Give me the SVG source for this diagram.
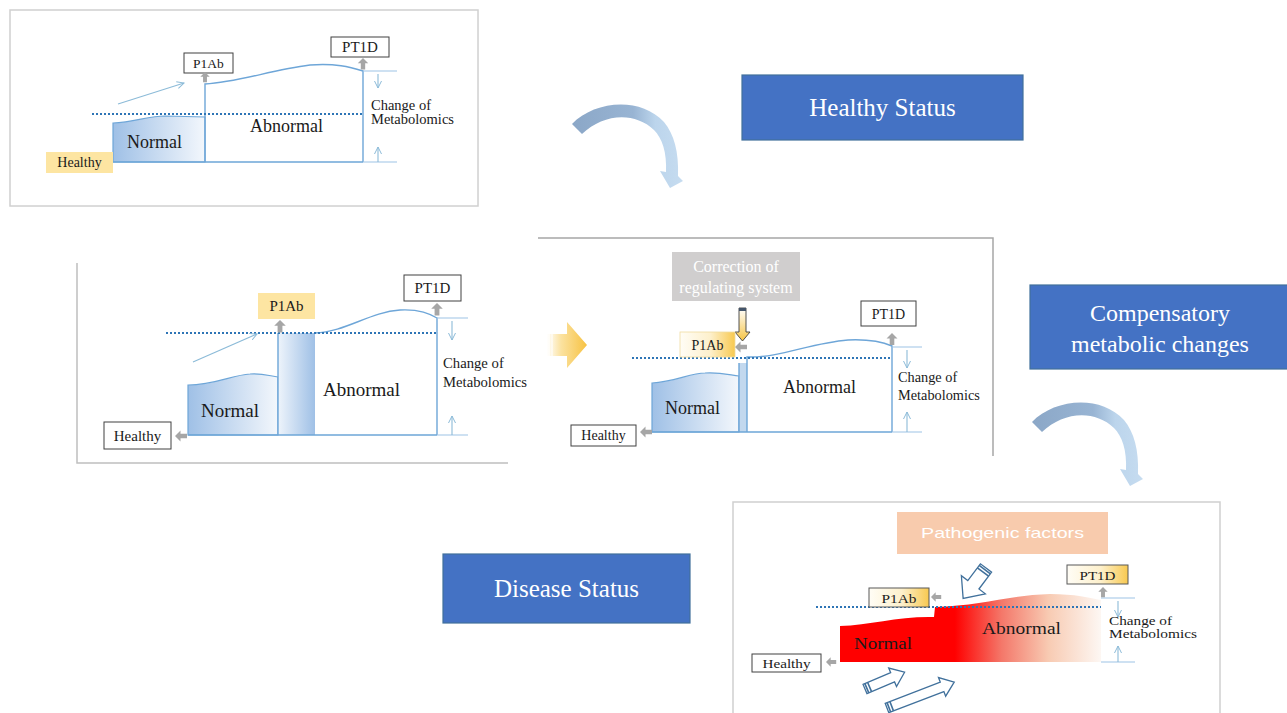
<svg xmlns="http://www.w3.org/2000/svg" xmlns:xlink="http://www.w3.org/1999/xlink" width="1287" height="713" viewBox="0 0 1287 713">
<defs>
<style>
.frame{fill:none;stroke:#d0d0d0;stroke-width:1.5}
.ln{fill:none;stroke:#6ea6d8;stroke-width:1.4}
.tick{fill:none;stroke:#9dc3e6;stroke-width:1.1}
.dot{fill:none;stroke:#2e75b6;stroke-width:2.2;stroke-dasharray:2 2}
.thin{fill:none;stroke:#8cbbd8;stroke-width:1.1}
.bx{fill:#ffffff;stroke:#404040;stroke-width:1}
.t{font-family:"Liberation Serif","Times New Roman",serif;fill:#1a1a1a}
.tw{font-family:"Liberation Serif","Times New Roman",serif;fill:#ffffff}
.ga{fill:#a6a6a6}
.blue{fill:#4472c4;stroke:#41719c;stroke-width:1.2}
.hol{fill:#ffffff;stroke:#41719c;stroke-width:1.3;stroke-linejoin:miter}
.str{stroke:#41719c;stroke-width:1.6}
</style>
<marker id="chev" viewBox="0 0 8 8" refX="7" refY="4" markerWidth="8" markerHeight="8" markerUnits="userSpaceOnUse" orient="auto">
<path d="M0,0.5 L7,4 L0,7.5" fill="none" stroke="#8cbbd8" stroke-width="1"/>
</marker>
<path id="ga" d="M0,0 L5.5,5.5 L2.3,5.5 L2.3,12 L-2.3,12 L-2.3,5.5 L-5.5,5.5 Z"/>
<linearGradient id="gNorm" x1="0" y1="0" x2="1" y2="0">
<stop offset="0" stop-color="#9fc0e6"/>
<stop offset="1" stop-color="#f3f7fc"/>
</linearGradient>
<linearGradient id="gCol" x1="0" y1="0" x2="1" y2="0">
<stop offset="0" stop-color="#eef4fb"/>
<stop offset="1" stop-color="#9fc0e6"/>
</linearGradient>
<linearGradient id="gGold" x1="0" y1="0" x2="1" y2="0">
<stop offset="0" stop-color="#fffdf6"/>
<stop offset="0.55" stop-color="#fdf0cc"/>
<stop offset="1" stop-color="#f8c950"/>
</linearGradient>
<linearGradient id="gYArrow" x1="0" y1="0" x2="1" y2="0">
<stop offset="0" stop-color="#ffffff"/>
<stop offset="0.35" stop-color="#fbe2a0"/>
<stop offset="1" stop-color="#f7c242"/>
</linearGradient>
<linearGradient id="gDown" x1="0" y1="0" x2="0" y2="1">
<stop offset="0" stop-color="#ffffff"/>
<stop offset="1" stop-color="#f6c445"/>
</linearGradient>
<linearGradient id="gRed" gradientUnits="userSpaceOnUse" x1="840" y1="0" x2="1101" y2="0">
<stop offset="0" stop-color="#ff0000"/>
<stop offset="0.44" stop-color="#ff0000"/>
<stop offset="0.62" stop-color="#f4786a"/>
<stop offset="0.8" stop-color="#f8cbb3"/>
<stop offset="1" stop-color="#fdf7f3"/>
</linearGradient>
<linearGradient id="gCurve" x1="0" y1="0" x2="1" y2="0">
<stop offset="0" stop-color="#8ba7c7"/>
<stop offset="0.55" stop-color="#98b4d3"/>
<stop offset="0.75" stop-color="#bcd5ec"/>
<stop offset="1" stop-color="#c6dcf0"/>
</linearGradient>
<path id="curve" d="M572,124 C594,101 640,96 664,122 C674,134 679,152 678,176 L683,181 L670,188 L660,171 L666,172 C667,152 662,138 654,130 C634,111 603,114 582,134 Z" fill="url(#gCurve)"/>
</defs>

<rect width="1287" height="713" fill="#ffffff"/>

<!-- Status labels -->
<g id="healthy-status">
<rect class="blue" x="742" y="75" width="281" height="65"/>
<text class="tw" x="882.5" y="116" font-size="25" text-anchor="middle">Healthy Status</text>
</g>
<g id="compensatory">
<rect class="blue" x="1030" y="285" width="258" height="84"/>
<text class="tw" x="1160" y="321" font-size="24" text-anchor="middle">Compensatory</text>
<text class="tw" x="1160" y="352" font-size="24" text-anchor="middle">metabolic changes</text>
</g>
<g id="disease-status">
<rect class="blue" x="443" y="554" width="247" height="69"/>
<text class="tw" x="566.5" y="597" font-size="25" text-anchor="middle">Disease Status</text>
</g>

<!-- Panel 1: healthy -->
<g id="panel-healthy">
<rect class="frame" x="10" y="10" width="468" height="196"/>
<path d="M113,162 L113,123 C135,122 148,116 165,116 L205,117 L205,162 Z" fill="url(#gNorm)" stroke="#6ea6d8" stroke-width="1.2"/>
<path class="ln" d="M205,162 L205,84 C240,82 270,70 310,65 C335,63 350,67 363,71 L363,162 M113,162 L363,162"/>
<path class="dot" d="M92,114 L363,114"/>
<path class="thin" d="M118,104 L184,83" marker-end="url(#chev)"/>
<path class="tick" d="M363,71 L397,71 M363,162 L397,162"/>
<path class="thin" d="M378,74 L378,88" marker-end="url(#chev)"/>
<path class="thin" d="M378,162 L378,147" marker-end="url(#chev)"/>
<rect x="46" y="152" width="67" height="21" fill="#fde5a2"/>
<text class="t" x="79.5" y="167" font-size="14" text-anchor="middle">Healthy</text>
<rect class="bx" x="184" y="53" width="49" height="20"/>
<text class="t" x="208.5" y="68" font-size="13.5" text-anchor="middle">P1Ab</text>
<use href="#ga" class="ga" transform="translate(205,72) scale(0.85)"/>
<rect class="bx" x="331" y="37" width="58" height="20"/>
<text class="t" x="360" y="52" font-size="15" text-anchor="middle">PT1D</text>
<use href="#ga" class="ga" transform="translate(363,58) scale(0.95)"/>
<text class="t" x="127" y="148" font-size="18">Normal</text>
<text class="t" x="250" y="132" font-size="18">Abnormal</text>
<text class="t" x="371" y="110" font-size="14.5">Change of</text>
<text class="t" x="371" y="124" font-size="14.5">Metabolomics</text>
</g>

<!-- Panel 2 -->
<g id="panel-early">
<path d="M77,263 L77,463 L508,463" fill="none" stroke="#bfbfbf" stroke-width="1.5"/>
<path d="M188,435 L188,385 C215,385 232,375 250,374 C262,373 270,376 278,377 L278,435 Z" fill="url(#gNorm)" stroke="#6ea6d8" stroke-width="1.2"/>
<rect x="278" y="333" width="37" height="102" fill="url(#gCol)"/>
<path class="ln" d="M278,435 L278,333 M315,333 C345,332 370,312 400,310 C420,309 430,314 437,318 L437,435 M188,435 L437,435"/>
<path class="dot" d="M166,333 L437,333"/>
<path class="thin" d="M193,362 L257,334" marker-end="url(#chev)"/>
<path class="tick" d="M437,318 L468,318 M437,435 L468,435"/>
<path class="thin" d="M452,321 L452,340" marker-end="url(#chev)"/>
<path class="thin" d="M452,435 L452,416" marker-end="url(#chev)"/>
<rect x="104" y="422" width="67" height="27" class="bx"/>
<text class="t" x="137.5" y="441" font-size="15" text-anchor="middle">Healthy</text>
<use href="#ga" class="ga" transform="translate(175,436) rotate(-90)"/>
<rect x="258" y="293" width="57" height="26" fill="#fde5a2"/>
<text class="t" x="286.5" y="311" font-size="15" text-anchor="middle">P1Ab</text>
<use href="#ga" class="ga" transform="translate(280,320) scale(1.05)"/>
<rect class="bx" x="404" y="275" width="57" height="26"/>
<text class="t" x="432.5" y="293" font-size="15" text-anchor="middle">PT1D</text>
<use href="#ga" class="ga" transform="translate(437,303) scale(1.05)"/>
<text class="t" x="201" y="417" font-size="19">Normal</text>
<text class="t" x="323" y="396" font-size="19">Abnormal</text>
<text class="t" x="443" y="368" font-size="14.7">Change of</text>
<text class="t" x="443" y="387" font-size="14.7">Metabolomics</text>
</g>

<!-- Panel 3 -->
<g id="panel-compensation">
<path d="M538,238 L993,238 L993,456" fill="none" stroke="#a6a6a6" stroke-width="1.5"/>
<polygon points="547,334 567,334 567,322 587,345 567,368 567,356 547,356" fill="url(#gYArrow)"/>
<path d="M549,334 L549,356 M552,334 L552,356" stroke="#ffffff" stroke-width="1"/>
<rect x="672" y="252" width="128" height="49" fill="#d0cece"/>
<text class="tw" x="736" y="272" font-size="16" text-anchor="middle" fill="#f5f5f5">Correction of</text>
<text class="tw" x="736" y="293" font-size="16" text-anchor="middle" fill="#f5f5f5">regulating system</text>
<path d="M739,308 L746,308 L746,332 L750,332 L742.5,341 L735,332 L739,332 Z" fill="url(#gDown)" stroke="#404040" stroke-width="0.9"/>
<rect x="739" y="308" width="7" height="3" fill="#44546a"/>
<path d="M652,432 L652,383 C675,382 690,373 705,373 C720,372 730,375 739,376 L739,432 Z" fill="url(#gNorm)" stroke="#6ea6d8" stroke-width="1.2"/>
<rect x="739" y="363" width="8" height="69" fill="#c2d8ee"/>
<path class="ln" d="M739,363 L739,432 M747,432 L747,357 C780,358 810,343 848,340 C870,339 885,343 892,346 L892,432 M652,432 L892,432"/>
<path class="dot" d="M632,358 L892,358"/>
<path class="tick" d="M892,347 L922,347 M892,432 L922,432"/>
<path class="thin" d="M907,350 L907,368" marker-end="url(#chev)"/>
<path class="thin" d="M907,432 L907,412" marker-end="url(#chev)"/>
<rect x="680" y="332" width="55" height="25" fill="url(#gGold)" stroke="#f1dca0" stroke-width="0.8"/>
<text class="t" x="707.5" y="350" font-size="14" text-anchor="middle">P1Ab</text>
<use href="#ga" class="ga" transform="translate(735,347) rotate(-90)"/>
<rect class="bx" x="861" y="301" width="55" height="25"/>
<text class="t" x="888.5" y="319" font-size="14" text-anchor="middle">PT1D</text>
<use href="#ga" class="ga" transform="translate(892,333) scale(1)"/>
<rect class="bx" x="571" y="425" width="65" height="21"/>
<text class="t" x="603.5" y="440" font-size="14" text-anchor="middle">Healthy</text>
<use href="#ga" class="ga" transform="translate(640,432) rotate(-90)"/>
<text class="t" x="665" y="414" font-size="18">Normal</text>
<text class="t" x="783" y="393" font-size="18">Abnormal</text>
<text class="t" x="898" y="382" font-size="14.3">Change of</text>
<text class="t" x="898" y="400" font-size="14.3">Metabolomics</text>
</g>

<!-- Panel 4 -->
<g id="panel-disease">
<path d="M733,713 L733,502 L1220,502 L1220,713" fill="none" stroke="#d0d0d0" stroke-width="1.5"/>
<rect x="897" y="512" width="211" height="42" fill="#f8cbad"/>
<text x="1002.5" y="538" font-family="'Liberation Sans',Arial,sans-serif" font-size="15" fill="#ffffff" text-anchor="middle" textLength="163" lengthAdjust="spacingAndGlyphs">Pathogenic factors</text>
<path d="M840,662 L840,626 C870,625 900,616 934,617 L935,607 C980,606 1010,595 1050,594 C1075,594 1090,598 1101,600 L1101,662 Z" fill="url(#gRed)"/>
<path class="dot" d="M816,607 L1101,607"/>
<path class="tick" d="M1101,598 L1135,598 M1101,662 L1135,662"/>
<path class="thin" d="M1118,601 L1118,617" marker-end="url(#chev)"/>
<path class="thin" d="M1118,662 L1118,646" marker-end="url(#chev)"/>
<rect x="869" y="588" width="60" height="19" fill="url(#gGold)" stroke="#595959" stroke-width="1"/>
<text class="t" x="899" y="603" font-size="12.5" text-anchor="middle" textLength="35" lengthAdjust="spacingAndGlyphs">P1Ab</text>
<use href="#ga" class="ga" transform="translate(931,597) rotate(-90) scale(0.85)"/>
<rect x="1067" y="565" width="61" height="19" fill="url(#gGold)" stroke="#595959" stroke-width="1"/>
<text class="t" x="1097.5" y="580" font-size="12.5" text-anchor="middle" textLength="36" lengthAdjust="spacingAndGlyphs">PT1D</text>
<use href="#ga" class="ga" transform="translate(1103,587) scale(0.85)"/>
<rect class="bx" x="752" y="654" width="69" height="18"/>
<text class="t" x="786.5" y="667.5" font-size="12.5" text-anchor="middle" textLength="48" lengthAdjust="spacingAndGlyphs">Healthy</text>
<use href="#ga" class="ga" transform="translate(826,662) rotate(-90) scale(0.85)"/>
<text class="t" x="854" y="649" font-size="16" textLength="58" lengthAdjust="spacingAndGlyphs">Normal</text>
<text class="t" x="982" y="634" font-size="16" textLength="79" lengthAdjust="spacingAndGlyphs">Abnormal</text>
<text class="t" x="1109" y="625" font-size="13" textLength="63" lengthAdjust="spacingAndGlyphs">Change of</text>
<text class="t" x="1109" y="638" font-size="13" textLength="88" lengthAdjust="spacingAndGlyphs">Metabolomics</text>
<g transform="translate(986,568) rotate(127)">
<path class="hol" d="M0,-7 L21,-7 L21,-15 L38,0 L21,15 L21,7 L0,7 Z"/>
<path class="str" d="M2,-7 L2,7 M5,-7 L5,7"/>
</g>
<g transform="translate(865,689) rotate(-23)">
<path class="hol" d="M0,-5 L30,-5 L30,-10 L43,0 L30,10 L30,5 L0,5 Z"/>
<path class="str" d="M2,-5 L2,5 M5,-5 L5,5"/>
</g>
<g transform="translate(887,708) rotate(-21)">
<path class="hol" d="M0,-5 L59,-5 L59,-10 L72,0 L59,10 L59,5 L0,5 Z"/>
<path class="str" d="M2,-5 L2,5 M5,-5 L5,5"/>
</g>
</g>

<!-- Connectors: curved transition arrows -->
<g id="connectors">
<use href="#curve"/>
<use href="#curve" transform="translate(460,298)"/>
</g>
</svg>
